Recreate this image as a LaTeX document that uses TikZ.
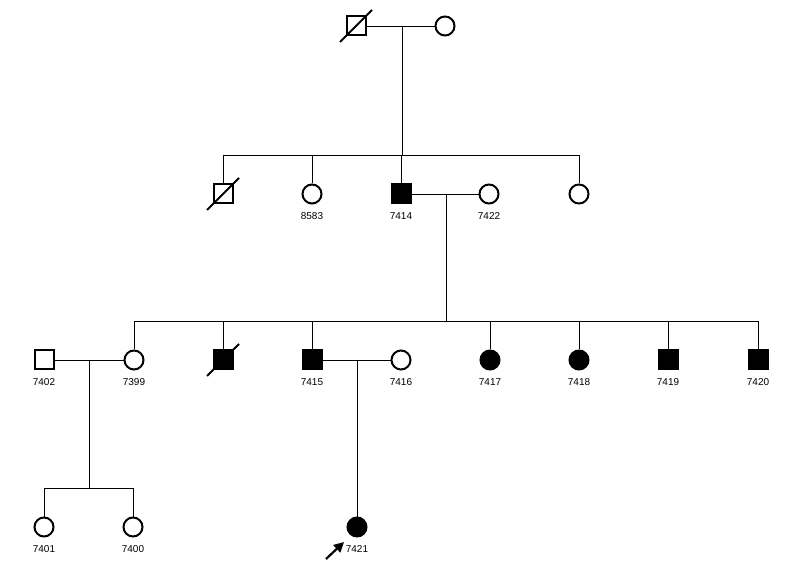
\documentclass[tikz,border=0pt]{standalone}
\usepackage{fontspec}
\setmainfont{Liberation Sans}
\usetikzlibrary{arrows.meta}

\begin{document}
\begin{tikzpicture}[x=1pt,y=-1pt,
		male/.style={shape=rectangle, draw=black, line width=2pt, minimum size=19pt, inner sep=0pt},
		female/.style={shape=circle, draw=black, line width=2pt, minimum size=19pt, inner sep=0pt},
		aff/.style={fill=black},
		id/.style={label={[label distance=7.5pt, inner sep=0pt, font=\fontsize{10}{12}\selectfont]below:#1}},
		line/.style={line width=0.9pt},
		slash/.style={line width=2pt},
]
\useasboundingbox (0,0) rectangle (812,585);

% generation I
\node[male] (d1) at (356,26) {};
\node[female] (w1) at (445,26) {};

% generation II
\node[male] (ii1) at (223,194) {};
\node[female,id=8583] (ii2) at (312,194) {};
\node[male,aff,id=7414] (ii3) at (401,194) {};
\node[female,id=7422] (ii4) at (489,194) {};
\node[female] (ii5) at (579,194) {};

% generation III
\node[male,id=7402] (iii0) at (44,360) {};
\node[female,id=7399] (iii1) at (134,360) {};
\node[male,aff] (iii2) at (223,360) {};
\node[male,aff,id=7415] (iii3) at (312,360) {};
\node[female,id=7416] (iii4) at (401,360) {};
\node[female,aff,id=7417] (iii5) at (490,360) {};
\node[female,aff,id=7418] (iii6) at (579,360) {};
\node[male,aff,id=7419] (iii7) at (668,360) {};
\node[male,aff,id=7420] (iii8) at (758,360) {};

% generation IV
\node[female,id=7401] (iv1) at (44,527) {};
\node[female,id=7400] (iv2) at (133,527) {};
\node[female,aff,id=7421] (iv3) at (357,527) {};

\coordinate (m1) at (402,26);
\coordinate (s1) at (402,155);
\coordinate (m2) at (446,194);
\coordinate (s2) at (446,321);
\coordinate (m3) at (89,360);
\coordinate (s3) at (89,488);
\coordinate (m4) at (357,360);

% couples
\draw[line] (d1) -- (w1);
\draw[line] (ii3) -- (ii4);
\draw[line] (iii0) -- (iii1);
\draw[line] (iii3) -- (iii4);

% descent lines
\draw[line] (m1) -- (s1);
\draw[line] (m2) -- (s2);
\draw[line] (m3) -- (s3);
\draw[line] (m4) -- (iv3);

% sibships
\draw[line] (ii1 |- s1) -- (ii5 |- s1);
\foreach \c in {ii1,ii2,ii3,ii5}
	\draw[line] (\c |- s1) -- (\c);
\draw[line] (iii1 |- s2) -- (iii8 |- s2);
\foreach \c in {iii1,iii2,iii3,iii5,iii6,iii7,iii8}
	\draw[line] (\c |- s2) -- (\c);
\draw[line] (iv1 |- s3) -- (iv2 |- s3);
\foreach \c in {iv1,iv2}
	\draw[line] (\c |- s3) -- (\c);

% deceased
\draw[slash] ([shift={(-16,16)}]d1.center) -- ([shift={(16,-16)}]d1.center);
\draw[slash] ([shift={(-16,16)}]ii1.center) -- ([shift={(16,-16)}]ii1.center);
\draw[slash] ([shift={(-16,16)}]iii2.center) -- ([shift={(16,-16)}]iii2.center);

% proband
\coordinate (pa) at (326,559);
\coordinate (pb) at (344,542);
\draw[line width=2.2pt, -{Triangle[length=10pt,width=10pt]}] (pa) -- (pb);

\end{tikzpicture}
\end{document}
